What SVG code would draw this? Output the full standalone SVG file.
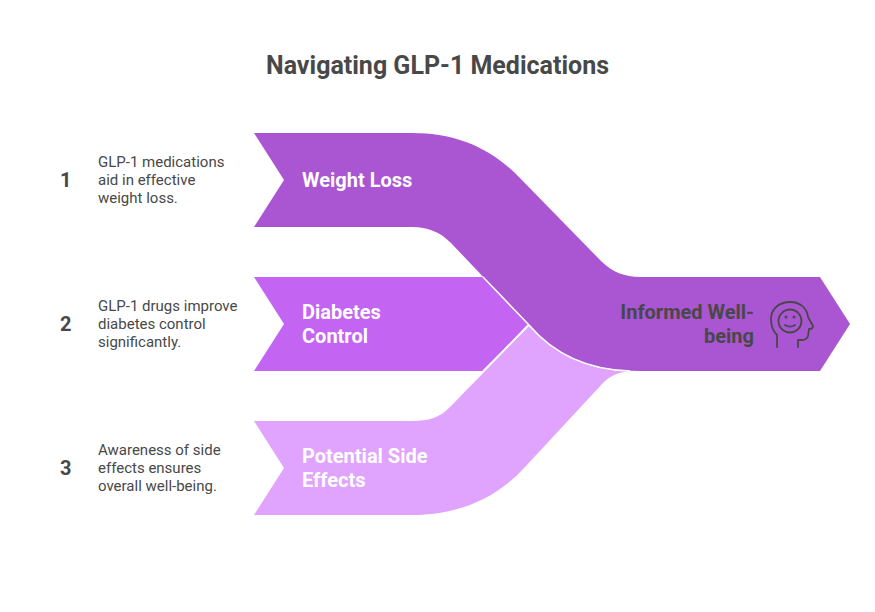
<svg xmlns="http://www.w3.org/2000/svg" width="875" height="612" viewBox="0 0 875 612">
<style>
text{font-family:Roboto,"Liberation Sans",sans-serif}
.title{font-size:25px;font-weight:700;fill:#484848}
.num{font-size:20px;font-weight:700;fill:#484848}
.desc{font-size:15px;fill:#484848}
.lab{font-size:20px;font-weight:700;fill:#fff}
.dark{font-size:20px;font-weight:700;fill:#484848;text-anchor:end}
.ico{fill:none;stroke:#484848;stroke-width:1.8;stroke-linecap:round;stroke-linejoin:round}
.sep{fill:none;stroke:#fff;stroke-width:1.5}
</style>
<rect width="875" height="612" fill="#fff"/>
<text class="title" x="437.500" y="74" text-anchor="middle">Navigating GLP-1 Medications</text>
<g id="step-1"><text class="num" x="60" y="187">1</text>
<text class="desc" x="98" y="167">GLP-1 medications</text><text class="desc" x="98" y="185">aid in effective</text><text class="desc" x="98" y="203">weight loss.</text></g>
<g id="step-2"><text class="num" x="60" y="331">2</text>
<text class="desc" x="98" y="311">GLP-1 drugs improve</text><text class="desc" x="98" y="329">diabetes control</text><text class="desc" x="98" y="347">significantly.</text></g>
<g id="step-3"><text class="num" x="60" y="475">3</text>
<text class="desc" x="98" y="455">Awareness of side</text><text class="desc" x="98" y="473">effects ensures</text><text class="desc" x="98" y="491">overall well-being.</text></g>
<g id="diabetes-control"><path d="M254 277H483L528 324L483 371H254L284 324Z" fill="#C364F2"/>
<text class="lab" x="302" y="319">Diabetes</text><text class="lab" x="302" y="343">Control</text></g>
<g id="potential-side-effects"><path d="M254 421H412C428 421 440 418 451 406L529 326C552 352 585 369 630 371.500C618 372 610 376 603 383L525 467C498 497 460 515 412 515H254L284 468Z" fill="#E0A4FE"/>
<text class="lab" x="302" y="463">Potential Side</text><text class="lab" x="302" y="487">Effects</text></g>
<g id="weight-loss-informed-well-being"><path d="M254 133H412C455 133 488 147 516 174L601 261C612 272 625 277 640 277H820L850 324L820 371H640C595 371 558 359 529 325L451 243C440 232 428 227 412 227H254L284 180Z" fill="#AA55D2"/>
<text class="lab" x="302" y="187">Weight Loss</text>
<text class="dark" x="754" y="319">Informed Well-</text><text class="dark" x="754" y="343">being</text>
<g id="icon" class="ico"><path d="M777 347V335C772 330 771 324 771 319C771 309 779 302 790 302C800 302 807 308 808 317L813 326C813 328 811 329 809 329L808 336C807 339 805 340 802 340H798V347"/><circle cx="790" cy="321" r="11.500"/><path d="M785 325C788 327 792 327 795 325"/><circle cx="786" cy="317" r=".6"/><circle cx="794" cy="317" r=".6"/></g></g>
<g id="connectors"><path class="sep" d="M483 277L529 325C558 359 595 370 630 371"/><path class="sep" d="M529 325L483 371"/></g>
</svg>
